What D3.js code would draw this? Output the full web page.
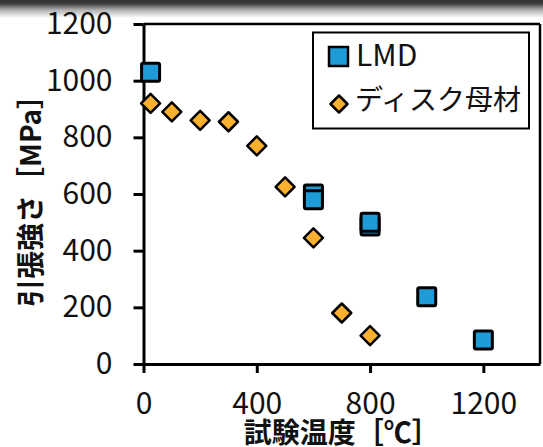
<!DOCTYPE html>
<html><head><meta charset="utf-8">
<script src="https://cdn.jsdelivr.net/npm/d3@7"></script>
<style>
html,body{margin:0;padding:0;background:#fff;}
svg{display:block;}
text{font-family:"Noto Sans CJK JP","Noto Sans",sans-serif;fill:#111;}
</style></head>
<body><svg id="c" width="543" height="447"></svg>
<script>
// Data
const lmdTemp = [25, 600, 600, 800, 800, 1000, 1200];
const lmdStrength = [1030, 600, 580, 487, 500, 237, 85];
const diskTemp = [25, 100, 200, 300, 400, 500, 600, 700, 800];
const diskStrength = [920, 890, 860, 855, 770, 625, 445, 180, 100];
const xTicks = [0, 400, 800, 1200];
const yTicks = [0, 200, 400, 600, 800, 1000, 1200];
const seriesNames = ["LMD", "ディスク母材"];
const xTitle = "試験温度［℃］";
const yTitle = "引張強さ［MPa］";

const svg = d3.select("#c");
const blue = "#1f9bd8", orange = "#fbb12f";

// top grey screen band
const defs = svg.append("defs");
const g0 = defs.append("linearGradient").attr("id","band").attr("x1",0).attr("x2",0).attr("y1",0).attr("y2",1);
g0.append("stop").attr("offset","0").attr("stop-color","#333");
g0.append("stop").attr("offset","0.2").attr("stop-color","#3c3c3c");
g0.append("stop").attr("offset","0.55").attr("stop-color","#b0b0b0");
g0.append("stop").attr("offset","1").attr("stop-color","#fff");
svg.append("rect").attr("x",0).attr("y",0).attr("width",543).attr("height",18).attr("fill","url(#band)");

const x = d3.scaleLinear().domain([0,1400]).range([143.5,540]);
const y = d3.scaleLinear().domain([0,1200]).range([364,24]);

// frame top/right
svg.append("line").attr("x1",x(0)).attr("x2",x(1400)).attr("y1",y(1200)).attr("y2",y(1200))
  .attr("stroke","#000").attr("stroke-width",2.5);
svg.append("line").attr("x1",x(1400)).attr("x2",x(1400)).attr("y1",y(1200)).attr("y2",y(0))
  .attr("stroke","#000").attr("stroke-width",2.5);

const fmt = d3.format("d");
const yAxis = svg.append("g").attr("transform",`translate(${x(0)},0)`)
  .call(d3.axisLeft(y).tickValues(yTicks).tickFormat(fmt).tickSize(10).tickSizeOuter(0).tickPadding(21));
const xAxis = svg.append("g").attr("transform",`translate(0,${y(0)})`)
  .call(d3.axisBottom(x).tickValues(xTicks).tickFormat(fmt).tickSize(9).tickSizeOuter(0).tickPadding(20));
[yAxis,xAxis].forEach(a=>{
  a.selectAll("path.domain").attr("stroke","#000").attr("stroke-width",3);
  a.selectAll(".tick line").attr("stroke","#000").attr("stroke-width",3);
  a.selectAll("text").style("font-size","30px").style("font-family",'"Noto Sans CJK JP",sans-serif').attr("fill","#111");
});

// axis titles
svg.append("text").attr("transform",`translate(29,${(y(0)+y(1200))/2}) rotate(-90)`)
  .attr("text-anchor","middle").attr("dominant-baseline","central")
  .style("font-size","28px").style("font-weight","700").text(yTitle);
svg.append("text").attr("x",(x(0)+x(1400))/2).attr("y",443)
  .attr("text-anchor","middle")
  .style("font-size","28px").style("font-weight","700").text(xTitle);

// markers
const sq = 18;
svg.append("g").selectAll("rect").data(lmdTemp.map((t,i)=>[t,lmdStrength[i]])).join("rect")
  .attr("x",d=>x(d[0])-sq/2).attr("y",d=>y(d[1])-sq/2).attr("width",sq).attr("height",sq)
  .attr("rx",1.5).attr("fill",blue).attr("stroke","#000").attr("stroke-width",3);
const dr = 9.5;
const diamond = r=>`M0,${-r}L${r},0L0,${r}L${-r},0Z`;
svg.append("g").selectAll("path").data(diskTemp.map((t,i)=>[t,diskStrength[i]])).join("path")
  .attr("transform",d=>`translate(${x(d[0])},${y(d[1])})`).attr("d",diamond(dr))
  .attr("fill",orange).attr("stroke","#000").attr("stroke-width",2.5).attr("stroke-linejoin","round");

// legend
const lg = svg.append("g");
lg.append("rect").attr("x",313).attr("y",32.5).attr("width",216).attr("height",96)
  .attr("fill","#fff").attr("stroke","#000").attr("stroke-width",2);
lg.append("rect").attr("x",338.5-9.5).attr("y",56.5-9.5).attr("width",19).attr("height",19)
  .attr("fill",blue).attr("stroke","#000").attr("stroke-width",2.5);
lg.append("text").attr("x",356).attr("y",66).style("font-size","30px").text(seriesNames[0]);
lg.append("path").attr("transform","translate(339,104)").attr("d",diamond(8.5))
  .attr("fill",orange).attr("stroke","#000").attr("stroke-width",2.5).attr("stroke-linejoin","round");
lg.append("text").attr("x",355).attr("y",110).style("font-size","28px").text(seriesNames[1]);
</script></body></html>
